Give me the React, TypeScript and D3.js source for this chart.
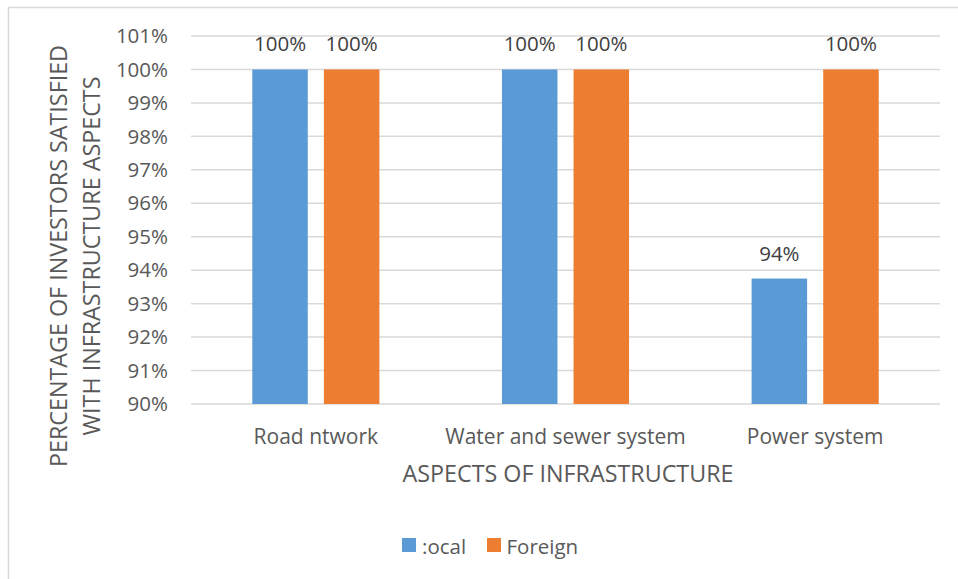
import React from "react";
import * as d3 from "d3";

const categories = ["Road ntwork", "Water and sewer system", "Power system"];
const seriesNames = [":ocal", "Foreign"];
const localValues = [100, 100, 93.75];
const foreignValues = [100, 100, 100];
const dataLabels = [["100%", "100%", "94%"], ["100%", "100%", "100%"]];
const yTicks = [90, 91, 92, 93, 94, 95, 96, 97, 98, 99, 100, 101];
const colors = ["#5B9BD5", "#ED7D31"];

const W = 958;
const H = 579;
const FONT = "'Open Sans', sans-serif";
const TXT = "#595959";

export default function App() {
  const left = 191, right = 940, top = 36, bottom = 404;
  const x = d3.scaleBand<string>().domain(categories).range([left, right]).paddingInner(0).paddingOuter(0);
  const y = d3.scaleLinear().domain([90, 101]).range([bottom, top]);
  const step = x.bandwidth();
  const barW = step * 0.2223;
  const gap = barW * 0.29;
  const groupW = 2 * barW + gap;
  const series = [localValues, foreignValues];

  return (
    <svg width={W} height={H} style={{ position: "absolute", left: 0, top: 0, display: "block" }}>
      <rect x={0} y={0} width={W} height={H} fill="#fff" />
      <rect x={8.5} y={7.5} width={W + 10} height={H + 10} fill="none" stroke="#d9d9d9" strokeWidth={1.5} />
      {yTicks.map((t) => (
        <g key={t}>
          <line x1={left} x2={right} y1={y(t)} y2={y(t)} stroke="#d9d9d9" strokeWidth={1.5} />
          <text x={168} y={y(t)} dy="0.35em" textAnchor="end" fontFamily={FONT} fontSize={20.5} fill={TXT}>
            {t}%
          </text>
        </g>
      ))}
      {series.map((vals, si) =>
        categories.map((c, ci) => {
          const x0 = (x(c) as number) + (step - groupW) / 2 + si * (barW + gap);
          const v = vals[ci];
          return (
            <g key={`${si}-${ci}`}>
              <rect x={x0} y={y(v)} width={barW} height={y(90) - y(v)} fill={colors[si]} />
              <text x={x0 + barW / 2} y={y(v) - 18} textAnchor="middle" fontFamily={FONT} fontSize={20.5} fill="#404040">
                {dataLabels[si][ci]}
              </text>
            </g>
          );
        })
      )}
      {categories.map((c) => (
        <text key={c} x={(x(c) as number) + step / 2} y={443.5} textAnchor="middle" fontFamily={FONT} fontSize={21} fill={TXT}>
          {c}
        </text>
      ))}
      <text x={568} y={482} textAnchor="middle" fontFamily={FONT} fontSize={23.3} fill={TXT}>
        ASPECTS OF INFRASTRUCTURE
      </text>
      <g transform="translate(0,256) rotate(-90)">
        <text x={0} y={67} textAnchor="middle" fontFamily={FONT} fontSize={23.3} fill={TXT}>
          PERCENTAGE OF INVESTORS SATISFIED
        </text>
        <text x={0} y={100} textAnchor="middle" fontFamily={FONT} fontSize={23.3} fill={TXT}>
          WITH INFRASTRUCTURE ASPECTS
        </text>
      </g>
      <g>
        <rect x={402} y={538} width={14} height={14} fill={colors[0]} />
        <text x={422} y={553.5} fontFamily={FONT} fontSize={20.5} fill={TXT}>{seriesNames[0]}</text>
        <rect x={487} y={538} width={14} height={14} fill={colors[1]} />
        <text x={506.5} y={553.5} fontFamily={FONT} fontSize={20.5} fill={TXT}>{seriesNames[1]}</text>
      </g>
    </svg>
  );
}
